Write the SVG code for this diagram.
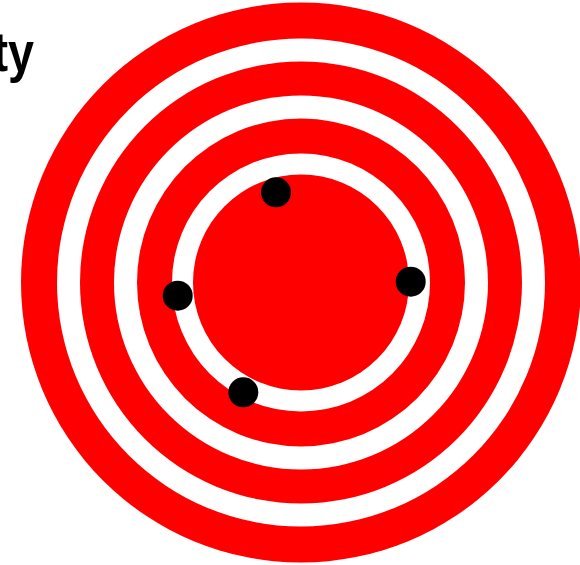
<svg xmlns="http://www.w3.org/2000/svg" width="580" height="565" viewBox="0 0 580 565">
<style>
.red{fill:#ff0000}
.white{fill:#ffffff}
.dot{fill:#000000}
.title{font-family:"Liberation Sans",Arial,sans-serif;font-weight:bold;font-size:55px;fill:#000}
</style>
<rect width="580" height="565" fill="#ffffff"/>
<g id="target">
<circle class="red" cx="301" cy="282.5" r="280"/>
<circle class="white" cx="301" cy="282.5" r="244"/>
<circle class="red" cx="301" cy="282.5" r="221"/>
<circle class="white" cx="301" cy="282.5" r="187"/>
<circle class="red" cx="301" cy="282.5" r="164"/>
<circle class="white" cx="301" cy="282.5" r="129"/>
<circle class="red" cx="301" cy="282.5" r="108"/>
</g>
<g id="shots">
<circle class="dot" cx="276" cy="192.3" r="15"/>
<circle class="dot" cx="410.7" cy="281.7" r="15"/>
<circle class="dot" cx="177.7" cy="295.7" r="15"/>
<circle class="dot" cx="243.3" cy="392.3" r="15"/>
</g>
<text class="title" transform="translate(34,71) scale(0.85,1)" x="0" y="0" text-anchor="end">ty</text>
</svg>
